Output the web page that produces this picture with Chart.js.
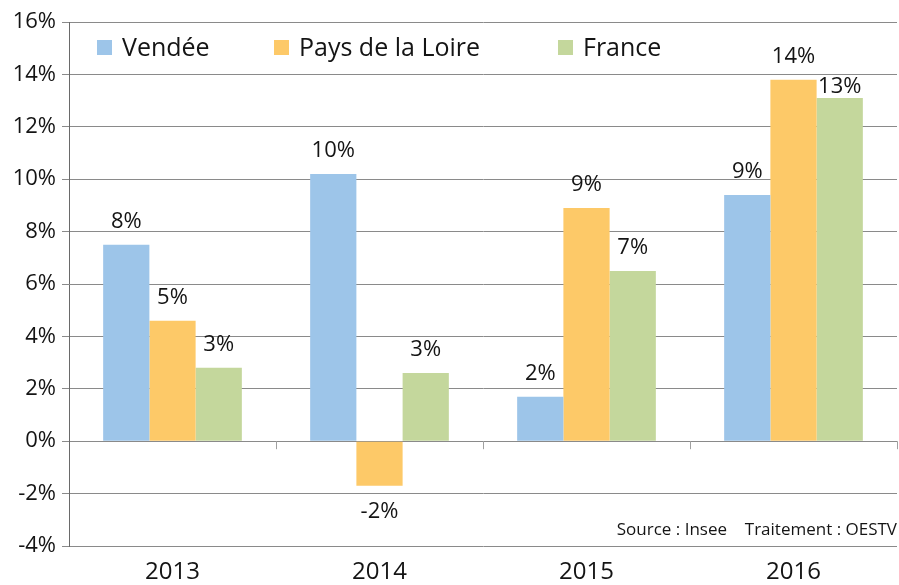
<!DOCTYPE html>
<html>
<head>
<meta charset="utf-8">
<script src="https://cdn.jsdelivr.net/npm/chart.js@4"></script>
<style>
  html, body { margin: 0; padding: 0; background: #fff; }
  #wrap { width: 899px; height: 585px; position: relative; }
</style>
</head>
<body>
<div id="wrap"><canvas id="c"></canvas></div>
<script>
// Data
const years = ['2013', '2014', '2015', '2016'];
const seriesNames = ['Vendée', 'Pays de la Loire', 'France'];
const vendee = [7.5, 10.2, 1.7, 9.4];
const paysLoire = [4.6, -1.7, 8.9, 13.8];
const france = [2.8, 2.6, 6.5, 13.1];
const yTicks = [-4, -2, 0, 2, 4, 6, 8, 10, 12, 14, 16];

const colors = ['#9dc5e9', '#fdc968', '#c4d79c'];
const FONT = '"Open Sans", "DejaVu Sans", sans-serif';
const INK = '#141414';

// value labels above / below the bars
const valueLabels = {
  id: 'valueLabels',
  afterDatasetsDraw(chart) {
    const ctx = chart.ctx;
    ctx.save();
    ctx.font = '22px ' + FONT;
    ctx.fillStyle = INK;
    ctx.textAlign = 'center';
    chart.data.datasets.forEach((ds, di) => {
      chart.getDatasetMeta(di).data.forEach((bar, i) => {
        const v = ds.data[i];
        const txt = Math.round(v) + '%';
        // France 2016 label sits closer to its bar in the original
        const gap = (di === 2 && i === 3) ? 5 : 17;
        if (v >= 0) {
          ctx.textBaseline = 'alphabetic';
          ctx.fillText(txt, bar.x, bar.y - gap);
        } else {
          ctx.textBaseline = 'top';
          ctx.fillText(txt, bar.x, bar.y + gap - 2);
        }
      });
    });
    ctx.restore();
  }
};

// legend inside the plot, source note, small ticks on the zero line
const extras = {
  id: 'extras',
  afterDraw(chart) {
    const ctx = chart.ctx;
    const x = chart.scales.x, y = chart.scales.y;
    ctx.save();

    // category separators on the 0% line
    const y0 = y.getPixelForValue(0);
    ctx.strokeStyle = '#a0a0a0';
    ctx.lineWidth = 1;
    for (let i = 1; i <= years.length; i++) {
      const px = Math.round((x.getPixelForValue(i - 1) + x.getPixelForValue(i)) / 2) + 0.5;
      ctx.beginPath();
      ctx.moveTo(px, y0);
      ctx.lineTo(px, y0 + 8);
      ctx.stroke();
    }

    // legend
    const legX = [97, 274, 558];
    ctx.font = '25px ' + FONT;
    ctx.textBaseline = 'alphabetic';
    ctx.textAlign = 'left';
    seriesNames.forEach((name, i) => {
      ctx.fillStyle = colors[i];
      ctx.fillRect(legX[i], 40, 15, 15);
      ctx.fillStyle = INK;
      ctx.fillText(name, legX[i] + 25, 56);
    });

    // source
    ctx.font = '17px ' + FONT;
    ctx.textAlign = 'right';
    ctx.fillText('Source : Insee', 727, 535);
    ctx.fillText('Traitement : OESTV', 897, 535);
    ctx.restore();
  }
};

new Chart(document.getElementById('c'), {
  type: 'bar',
  data: {
    labels: years,
    datasets: [
      { label: seriesNames[0], data: vendee, backgroundColor: colors[0] },
      { label: seriesNames[1], data: paysLoire, backgroundColor: colors[1] },
      { label: seriesNames[2], data: france, backgroundColor: colors[2] }
    ]
  },
  options: {
    responsive: true, maintainAspectRatio: false,
    animation: false,
    datasets: { bar: { barPercentage: 1, categoryPercentage: 0.67 } },
    layout: { padding: { top: 22, right: 2, left: 0, bottom: 0 } },
    plugins: { legend: { display: false }, tooltip: { enabled: false } },
    scales: {
      y: {
        min: yTicks[0], max: yTicks[yTicks.length - 1],
        afterBuildTicks: s => { s.ticks = yTicks.map(v => ({ value: v })); },
        afterFit: s => { s.width = 69; },
        ticks: { callback: v => v + '%', font: { family: FONT, size: 22 }, color: INK, padding: 6 },
        grid: { color: '#8a8a8a', lineWidth: 1, tickLength: 7 },
        border: { display: true, color: '#6a6a6a' }
      },
      x: {
        afterFit: s => { s.height = 39; },
        ticks: { font: { family: FONT, size: 24 }, color: INK, padding: 12 },
        grid: { display: false, drawTicks: false },
        border: { display: false }
      }
    }
  },
  plugins: [valueLabels, extras]
});
</script>
</body>
</html>
